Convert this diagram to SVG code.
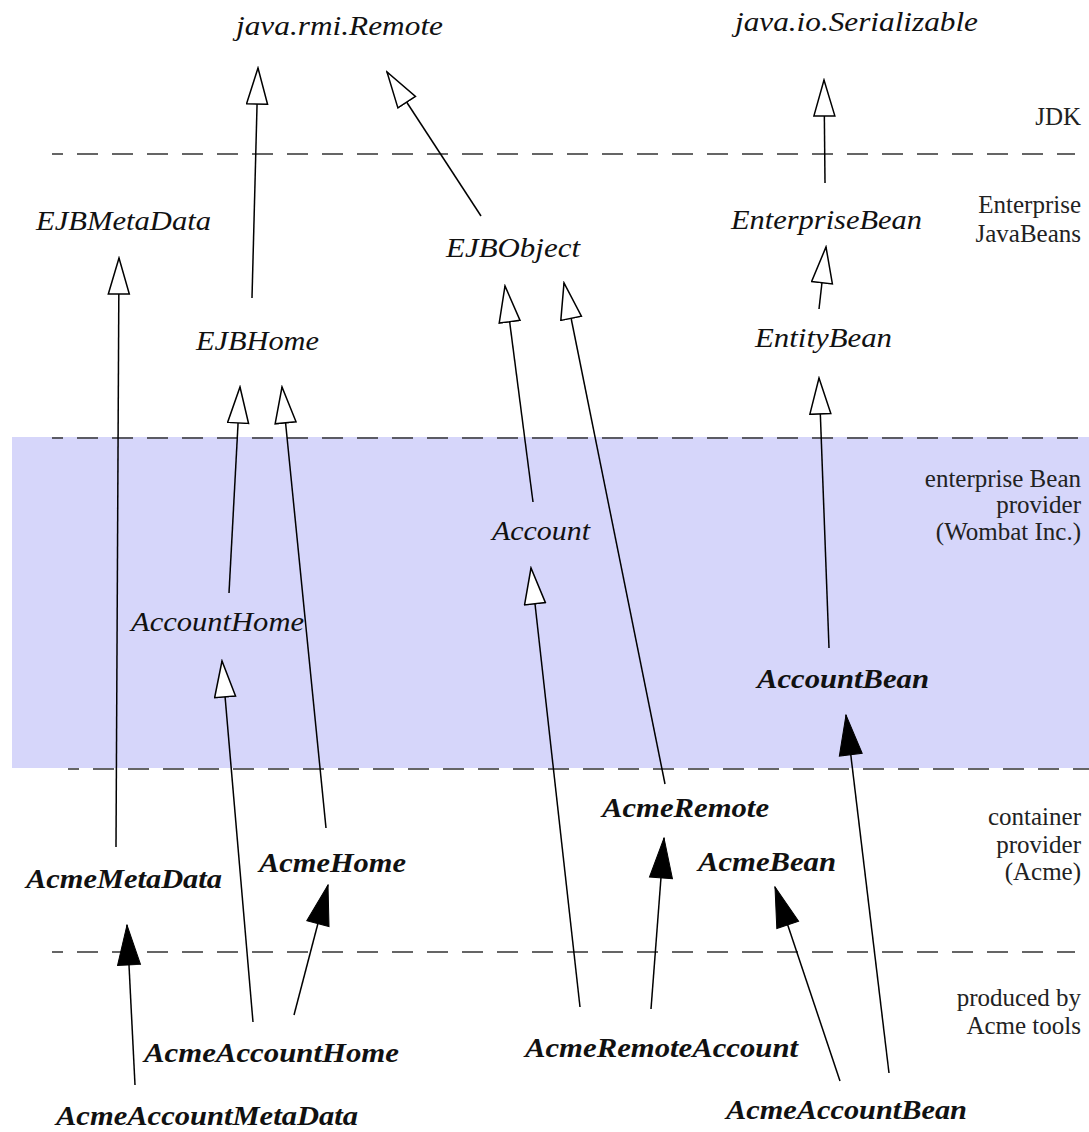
<svg xmlns="http://www.w3.org/2000/svg" width="1089" height="1132" viewBox="0 0 1089 1132">
<style>
.n{font-family:"Liberation Serif","Times New Roman",serif;font-style:italic;font-size:28px;fill:#111}
.b{font-weight:bold}
.lab{font-family:"Liberation Serif","Times New Roman",serif;font-size:25px;fill:#222;text-anchor:end}
.sep{stroke:#333;stroke-width:1.5;stroke-dasharray:21 14;stroke-dashoffset:10;fill:none}
.c{stroke:#000;stroke-width:1.5;fill:none}
.h{marker-end:url(#hollow)}
.f{marker-end:url(#filled)}
</style>
<defs>
<marker id="hollow" markerUnits="userSpaceOnUse" viewBox="-1 -1 39 24" refX="36" refY="10.5" markerWidth="39" markerHeight="24" orient="auto">
<path d="M0,0 L36,10.5 L0,21 Z" fill="#fff" stroke="#000" stroke-width="1.5" stroke-linejoin="miter"/>
</marker>
<marker id="filled" markerUnits="userSpaceOnUse" viewBox="-1 -1 42 26" refX="40" refY="11.5" markerWidth="42" markerHeight="26" orient="auto">
<path d="M0,0 L40,11.5 L0,23 Z" fill="#000" stroke="#000" stroke-width="1"/>
</marker>
</defs>
<rect width="1089" height="1132" fill="#fff"/>
<g id="layers">
<rect x="12" y="437" width="1077" height="331" fill="#d6d6fa"/>
<line class="sep" x1="52" y1="154" x2="1075" y2="154"/>
<line class="sep" x1="52" y1="438" x2="1089" y2="438"/>
<line class="sep" x1="68" y1="769" x2="1089" y2="769"/>
<line class="sep" x1="52" y1="952" x2="1075" y2="952"/>
<text class="lab" x="1081" y="125">JDK</text>
<text class="lab" x="1081" y="213">Enterprise</text>
<text class="lab" x="1081" y="242">JavaBeans</text>
<text class="lab" x="1081" y="487">enterprise Bean</text>
<text class="lab" x="1081" y="513">provider</text>
<text class="lab" x="1081" y="540">(Wombat Inc.)</text>
<text class="lab" x="1081" y="825">container</text>
<text class="lab" x="1081" y="853">provider</text>
<text class="lab" x="1081" y="880">(Acme)</text>
<text class="lab" x="1081" y="1006">produced by</text>
<text class="lab" x="1081" y="1034">Acme tools</text>
</g>
<g id="connectors">
<line class="c h" x1="252" y1="298" x2="258" y2="68"/>
<line class="c h" x1="481" y1="216" x2="387" y2="72"/>
<line class="c h" x1="825" y1="183" x2="824" y2="80"/>
<line class="c h" x1="819" y1="309" x2="826" y2="247"/>
<line class="c h" x1="829" y1="648" x2="819" y2="378"/>
<line class="c h" x1="229" y1="593" x2="240" y2="387"/>
<line class="c h" x1="326" y1="828" x2="282" y2="387"/>
<line class="c h" x1="533" y1="502" x2="505" y2="286"/>
<line class="c h" x1="665" y1="784" x2="564" y2="283"/>
<line class="c h" x1="116" y1="847" x2="119" y2="258"/>
<line class="c h" x1="253" y1="1022" x2="222" y2="661"/>
<line class="c h" x1="580" y1="1007" x2="531" y2="568"/>
<line class="c f" x1="889" y1="1073" x2="846" y2="715"/>
<line class="c f" x1="294" y1="1015" x2="328" y2="885"/>
<line class="c f" x1="135" y1="1085" x2="127" y2="925"/>
<line class="c f" x1="651" y1="1009" x2="664" y2="838"/>
<line class="c f" x1="840" y1="1081" x2="775" y2="887"/>
</g>
<g id="java.rmi.Remote"><text class="n" x="236" y="35" textLength="207" lengthAdjust="spacingAndGlyphs">java.rmi.Remote</text></g>
<g id="java.io.Serializable"><text class="n" x="735" y="31" textLength="243" lengthAdjust="spacingAndGlyphs">java.io.Serializable</text></g>
<g id="EJBMetaData"><text class="n" x="36" y="230" textLength="175" lengthAdjust="spacingAndGlyphs">EJBMetaData</text></g>
<g id="EJBObject"><text class="n" x="446" y="257" textLength="134" lengthAdjust="spacingAndGlyphs">EJBObject</text></g>
<g id="EnterpriseBean"><text class="n" x="731" y="229" textLength="191" lengthAdjust="spacingAndGlyphs">EnterpriseBean</text></g>
<g id="EJBHome"><text class="n" x="196" y="350" textLength="123" lengthAdjust="spacingAndGlyphs">EJBHome</text></g>
<g id="EntityBean"><text class="n" x="755" y="347" textLength="137" lengthAdjust="spacingAndGlyphs">EntityBean</text></g>
<g id="Account"><text class="n" x="492" y="540" textLength="98" lengthAdjust="spacingAndGlyphs">Account</text></g>
<g id="AccountHome"><text class="n" x="131" y="631" textLength="173" lengthAdjust="spacingAndGlyphs">AccountHome</text></g>
<g id="AccountBean"><text class="n b" x="757" y="688" textLength="172" lengthAdjust="spacingAndGlyphs">AccountBean</text></g>
<g id="AcmeRemote"><text class="n b" x="602" y="817" textLength="167" lengthAdjust="spacingAndGlyphs">AcmeRemote</text></g>
<g id="AcmeHome"><text class="n b" x="259" y="872" textLength="147" lengthAdjust="spacingAndGlyphs">AcmeHome</text></g>
<g id="AcmeMetaData"><text class="n b" x="26" y="888" textLength="196" lengthAdjust="spacingAndGlyphs">AcmeMetaData</text></g>
<g id="AcmeBean"><text class="n b" x="698" y="871" textLength="138" lengthAdjust="spacingAndGlyphs">AcmeBean</text></g>
<g id="AcmeAccountHome"><text class="n b" x="144" y="1062" textLength="255" lengthAdjust="spacingAndGlyphs">AcmeAccountHome</text></g>
<g id="AcmeRemoteAccount"><text class="n b" x="525" y="1057" textLength="273" lengthAdjust="spacingAndGlyphs">AcmeRemoteAccount</text></g>
<g id="AcmeAccountMetaData"><text class="n b" x="56" y="1125" textLength="302" lengthAdjust="spacingAndGlyphs">AcmeAccountMetaData</text></g>
<g id="AcmeAccountBean"><text class="n b" x="726" y="1119" textLength="241" lengthAdjust="spacingAndGlyphs">AcmeAccountBean</text></g>
</svg>
